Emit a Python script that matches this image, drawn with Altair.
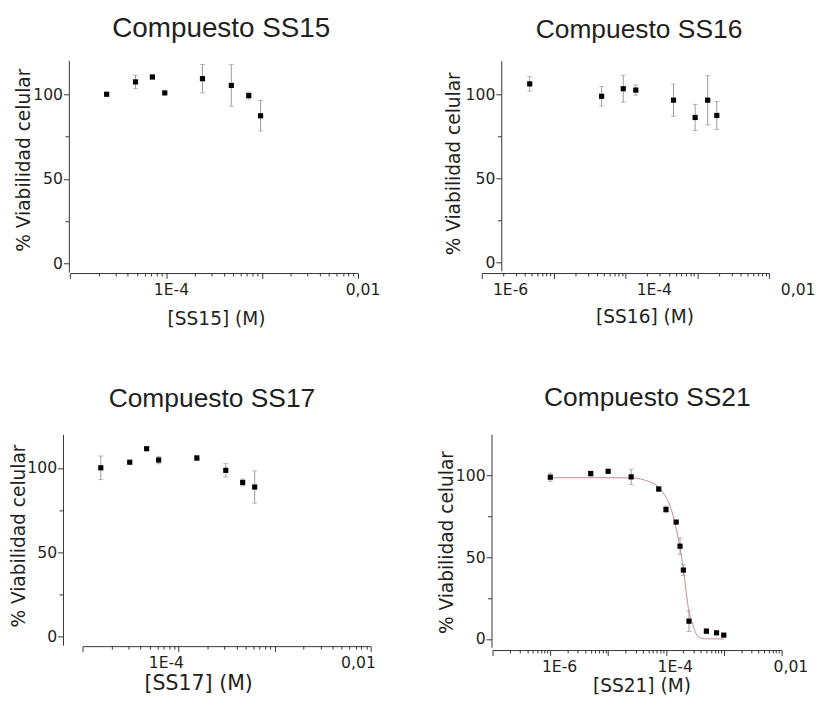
import altair as alt
import pandas as pd

# ---------------- data ----------------
ss15_conc = [2.4e-5, 4.8e-5, 7.2e-5, 9.7e-5, 2.4e-4, 4.8e-4, 7.3e-4, 9.7e-4]
ss15_viab = [100.0, 107.3, 110.2, 100.8, 109.2, 105.2, 99.2, 87.3]
ss15_err = [0.5, 4.0, 1.2, 0.5, 8.4, 12.3, 2.0, 9.0]

ss16_conc = [4.65e-6, 4.65e-5, 9.3e-5, 1.39e-4, 4.65e-4, 9.3e-4, 1.39e-3, 1.86e-3]
ss16_viab = [106.2, 98.8, 103.3, 102.5, 96.5, 86.2, 96.5, 87.4]
ss16_err = [4.3, 5.8, 8.0, 3.0, 9.6, 7.8, 14.6, 8.3]

ss17_conc = [1.55e-5, 3.1e-5, 4.65e-5, 6.2e-5, 1.55e-4, 3.1e-4, 4.65e-4, 6.2e-4]
ss17_viab = [100.2, 103.5, 111.5, 104.8, 106.0, 98.7, 91.5, 88.8]
ss17_err = [7.0, 0.8, 0.8, 2.2, 1.5, 4.0, 2.0, 9.6]

ss21_conc = [1e-6, 5e-6, 1e-5, 2.5e-5, 7.5e-5, 1e-4, 1.5e-4, 1.75e-4, 2e-4, 2.5e-4, 5e-4, 7.5e-4, 1e-3]
ss21_viab = [98.8, 101.0, 102.4, 99.0, 91.6, 79.1, 71.4, 56.7, 42.1, 10.9, 4.8, 3.8, 2.4]
ss21_err = [2.5, 1.5, 0.5, 4.7, 1.5, 2.0, 0.5, 5.0, 3.2, 6.3, 1.5, 0.5, 0.5]

# fitted curve of SS21
ss21_fit_conc = [1e-6, 1e-5, 2.5e-5, 4.4e-5, 7.0e-5, 9.66e-5, 1.25e-4, 1.52e-4,
                 1.85e-4, 2.1e-4, 2.39e-4, 2.9e-4, 3.52e-4, 4.57e-4, 1e-3]
ss21_fit_viab = [98.5, 98.5, 98.4, 96.9, 93.5, 87.5, 78.5, 66.6,
                 50.7, 36.8, 20.9, 9.0, 2.0, 0.2, 0.0]

titles = ["Compuesto SS15", "Compuesto SS16", "Compuesto SS17", "Compuesto SS21"]
x_titles = ["[SS15] (M)", "[SS16] (M)", "[SS17] (M)", "[SS21] (M)"]
y_title = "% Viabilidad celular"
y_ticks = [0, 25, 50, 75, 100]

TXT = "#231f20"
AX = "#333333"
ERR = "#9a9a9a"
FIT = "#c78b8b"
W, H = 310, 219


def log_ticks(lo_exp, hi_exp):
    vals = []
    for e in range(lo_exp, hi_exp):
        for k in range(1, 10):
            vals.append(float(f"{k}e{e}"))
    vals.append(float(f"1e{hi_exp}"))
    return vals


XLABEL = ("datum.value == 0.000001 ? '1E-6' : datum.value == 0.0001 ? '1E-4' : "
          "datum.value == 0.01 ? '0,01' : ''")
DECADE = "abs(log(datum.value)/LN10 - round(log(datum.value)/LN10)) < 0.001"


def panel(conc, viab, err, idx, xdom, xrange, xticks, lab_off, ydom, yrange,
          yoff, xoff, title_size, title_dx, title_off, xtitle_x, xtitle_pad,
          xtitle_size, ytitle_x, ytitle_y, fit=None):
    df = pd.DataFrame({
        "c": conc, "v": viab,
        "lo": [v - e for v, e in zip(viab, err)],
        "hi": [v + e for v, e in zip(viab, err)],
    })
    xs = alt.Scale(type="log", domain=xdom, range=xrange, nice=False)
    ys = alt.Scale(domain=ydom, range=yrange, nice=False, zero=False)
    xaxis = alt.Axis(
        values=xticks, labelExpr=XLABEL, grid=False, offset=xoff,
        tickSize={"condition": {"test": DECADE, "value": 5.5}, "value": 3},
        tickColor=AX, domainColor=AX, tickWidth=1, domainWidth=1,
        labelFont="DejaVu Sans", labelFontSize=16, labelColor=TXT,
        labelPadding=3, labelOffset=lab_off, labelFlush=False,
        labelOverlap=False, labelBound=False,
        titleFont="DejaVu Sans", titleFontSize=xtitle_size, titleFontWeight="normal",
        titleColor=TXT, titlePadding=xtitle_pad, titleX=xtitle_x,
    )
    yaxis = alt.Axis(
        values=y_ticks, labelExpr="datum.value % 50 == 0 ? datum.label : ''",
        grid=False, offset=yoff,
        tickSize={"condition": {"test": "datum.value % 50 == 0", "value": 5.5}, "value": 4},
        tickColor=AX, domainColor=AX, tickWidth=1, domainWidth=1,
        labelFont="DejaVu Sans", labelFontSize=16, labelColor=TXT,
        labelPadding=1, labelFlush=False, labelOverlap=False,
        titleFont="DejaVu Sans", titleFontSize=19, titleFontWeight="normal",
        titleColor=TXT, titleX=ytitle_x, titleY=ytitle_y,
    )
    xenc = alt.X("c:Q", scale=xs, axis=xaxis, title=x_titles[idx])
    base = alt.Chart(df)
    bars = base.mark_rule(color=ERR, strokeWidth=1).encode(
        x=xenc,
        y=alt.Y("lo:Q", scale=ys, axis=yaxis, title=y_title),
        y2="hi:Q",
    )
    cap_lo = base.mark_tick(orient="horizontal", size=5, thickness=1, color=ERR).encode(
        x="c:Q", y="lo:Q")
    cap_hi = base.mark_tick(orient="horizontal", size=5, thickness=1, color=ERR).encode(
        x="c:Q", y="hi:Q")
    pts = base.mark_square(size=28, color="black", opacity=1, filled=True).encode(
        x="c:Q", y="v:Q")
    layers = [bars, cap_lo, cap_hi]
    if fit is not None:
        fdf = pd.DataFrame({"c": fit[0], "v": fit[1]})
        line = alt.Chart(fdf).mark_line(color=FIT, strokeWidth=1,
                                        interpolate="monotone").encode(
            x="c:Q", y="v:Q")
        layers = [bars, line, cap_lo, cap_hi]
    layers.append(pts)
    return alt.layer(*layers).properties(
        width=W, height=H,
        title=alt.TitleParams(
            titles[idx], font="Liberation Sans", fontSize=title_size,
            fontWeight="normal", color=TXT, anchor="middle", frame="group",
            dx=title_dx, dy=26, offset=title_off, baseline="alphabetic"),
    )


p1 = panel(ss15_conc, ss15_viab, ss15_err, 0, [1e-5, 1e-2], [1.4, 295.7],
           log_ticks(-5, -2), 5, [-5, 120], [218, 1.3], 0, 0,
           28.5, 1, 20, 150.7, 13, 19, -36, 103)
p2 = panel(ss16_conc, ss16_viab, ss16_err, 1, [1e-6, 1e-2], [-10, 284.4],
           log_ticks(-6, -2), 29, [-5, 120], [216.6, 1.6], -10, 0,
           27, -4, 21, 156.7, 10.7, 19, -39, 106.7)
p3 = panel(ss17_conc, ss17_viab, ss17_err, 2, [1e-5, 1e-2], [14, 309],
           log_ticks(-5, -2), -13, [-5, 120], [218, 2.2], 6, 0,
           27, -8.5, 24.5, 132.4, 2.5, 21, -35, 105.8)
p4 = panel(ss21_conc, ss21_viab, ss21_err, 3, [1e-7, 1e-2], [1, 297],
           log_ticks(-7, -2), 9, [-5, 125], [220.1, 2.1], 0, 4,
           27, 4.5, 25.5, 153.5, 3, 19, -35.6, 112.5,
           fit=(ss21_fit_conc, ss21_fit_viab))

chart = alt.concat(
    p1, p2, p3, p4, columns=2,
    spacing={"row": 163, "column": 122.7}, bounds="flush",
).configure_view(stroke=None).properties(
    padding={"left": 1.3, "top": -2, "right": 5, "bottom": 5},
    background="white",
)

chart.save("out.html", embed_options={"renderer": "svg", "actions": False})
